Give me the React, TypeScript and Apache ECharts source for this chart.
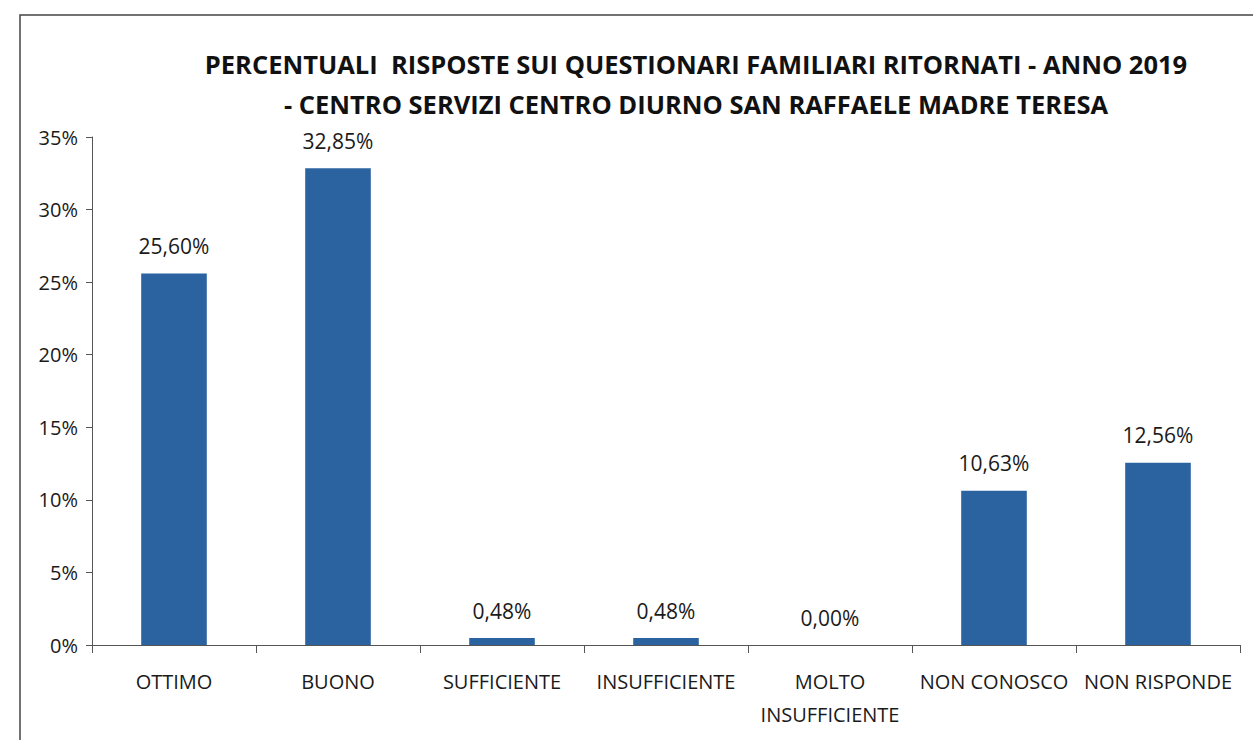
import React, { useEffect, useRef } from "react";
import * as echarts from "echarts";

const categories = [
  "OTTIMO",
  "BUONO",
  "SUFFICIENTE",
  "INSUFFICIENTE",
  "MOLTO\nINSUFFICIENTE",
  "NON CONOSCO",
  "NON RISPONDE",
];
const values = [25.6, 32.85, 0.48, 0.48, 0.0, 10.63, 12.56];
const titleLines = [
  "PERCENTUALI  RISPOSTE SUI QUESTIONARI FAMILIARI RITORNATI - ANNO 2019",
  "- CENTRO SERVIZI CENTRO DIURNO SAN RAFFAELE MADRE TERESA",
];

const FONT = "'Open Sans', 'Noto Sans', sans-serif";

export default function App() {
  const ref = useRef<HTMLDivElement>(null);
  useEffect(() => {
    if (!ref.current) return;
    const chart = echarts.init(ref.current, undefined, { renderer: "svg" });
    chart.setOption({
      animation: false,
      backgroundColor: "#ffffff",
      title: {
        text: titleLines.join("\n"),
        left: 691,
        top: 39,
        textAlign: "center",
        textStyle: {
          fontFamily: FONT,
          fontWeight: "bold",
          fontSize: 25.5,
          lineHeight: 40,
          color: "#111",
        },
      },
      graphic: [
        {
          type: "rect",
          shape: { x: 20, y: 15, width: 1240, height: 740 },
          style: { fill: "none", stroke: "#444", lineWidth: 1.5 },
          silent: true,
        },
      ],
      grid: { left: 92, right: 13, top: 137, bottom: 95 },
      xAxis: {
        type: "category",
        data: categories,
        axisLine: { lineStyle: { color: "#555", width: 1 } },
        axisTick: { show: true, length: 8, alignWithLabel: false, lineStyle: { color: "#555" } },
        axisLabel: {
          fontFamily: FONT,
          fontSize: 20,
          color: "#1a1a1a",
          margin: 20,
          lineHeight: 33,
          interval: 0,
        },
      },
      yAxis: {
        type: "value",
        min: 0,
        max: 35,
        interval: 5,
        splitLine: { show: false },
        axisLine: { show: true, lineStyle: { color: "#555", width: 1 } },
        axisTick: { show: true, length: 6, lineStyle: { color: "#555" } },
        axisLabel: {
          fontFamily: FONT,
          fontSize: 20,
          color: "#1a1a1a",
          margin: 14,
          formatter: (v: number) => `${v}%`,
        },
      },
      series: [
        {
          type: "bar",
          data: values,
          barWidth: "40%",
          itemStyle: { color: "#2b63a1" },
          label: {
            show: true,
            position: "top",
            distance: 17,
            fontFamily: FONT,
            fontSize: 21,
            color: "#1a1a1a",
            formatter: (p: any) => `${Number(p.value).toFixed(2).replace(".", ",")}%`,
          },
        },
      ],
    });
    return () => chart.dispose();
  }, []);
  return (
    <div
      ref={ref}
      style={{ position: "fixed", left: 0, top: 0, width: 1253, height: 740 }}
    />
  );
}
